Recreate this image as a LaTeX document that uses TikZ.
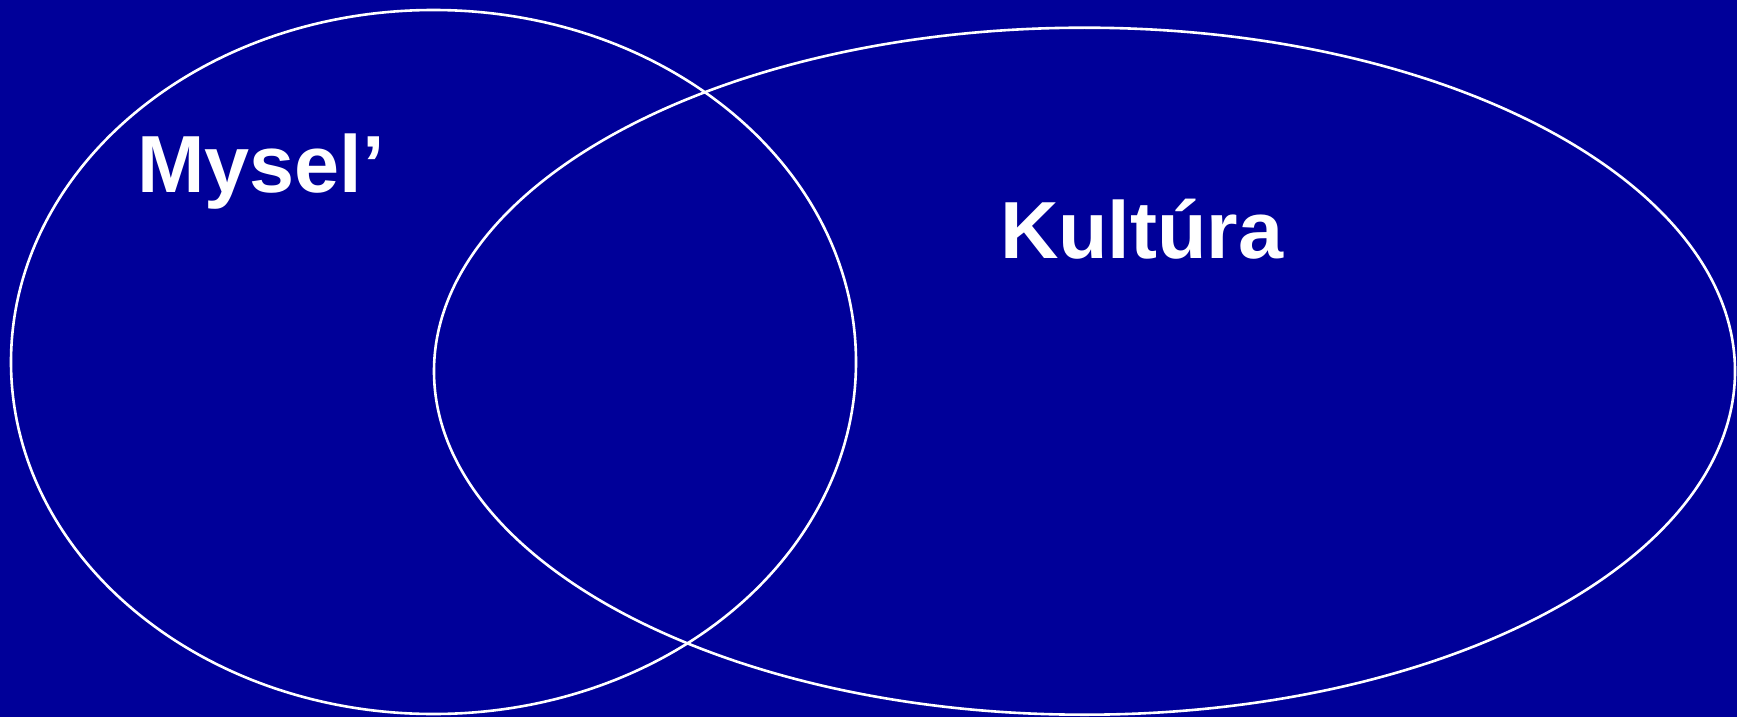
\documentclass[tikz,border=0pt]{standalone}
\usepackage{fontspec}
\setmainfont{Liberation Sans}
\usetikzlibrary{shapes.geometric}
\definecolor{bgblue}{RGB}{0,0,153}
\tikzset{
  setring/.style={draw=white, line width=2.6pt, ellipse, inner sep=0pt, outer sep=0pt},
  setlabel/.style={text=white, inner sep=0pt, outer sep=0pt, anchor=base west,
    font=\fontsize{81}{97}\selectfont\bfseries}
}
\begin{document}
\begin{tikzpicture}[x=1pt,y=-1pt]
\fill[bgblue] (0,0) rectangle (1737,717);
\useasboundingbox (0,0) rectangle (1737,717);
\node[setring, minimum width=845pt, minimum height=704pt] (mind) at (433.5,362) {};
\node[setring, minimum width=1301pt, minimum height=687pt] (culture) at (1084.5,371.2) {};
\node[setlabel] (mindlabel) at (137,192.5) {Mysel’};
\node[setlabel] (culturelabel) at (1000,258.5) {Kultúra};
\end{tikzpicture}
\end{document}
